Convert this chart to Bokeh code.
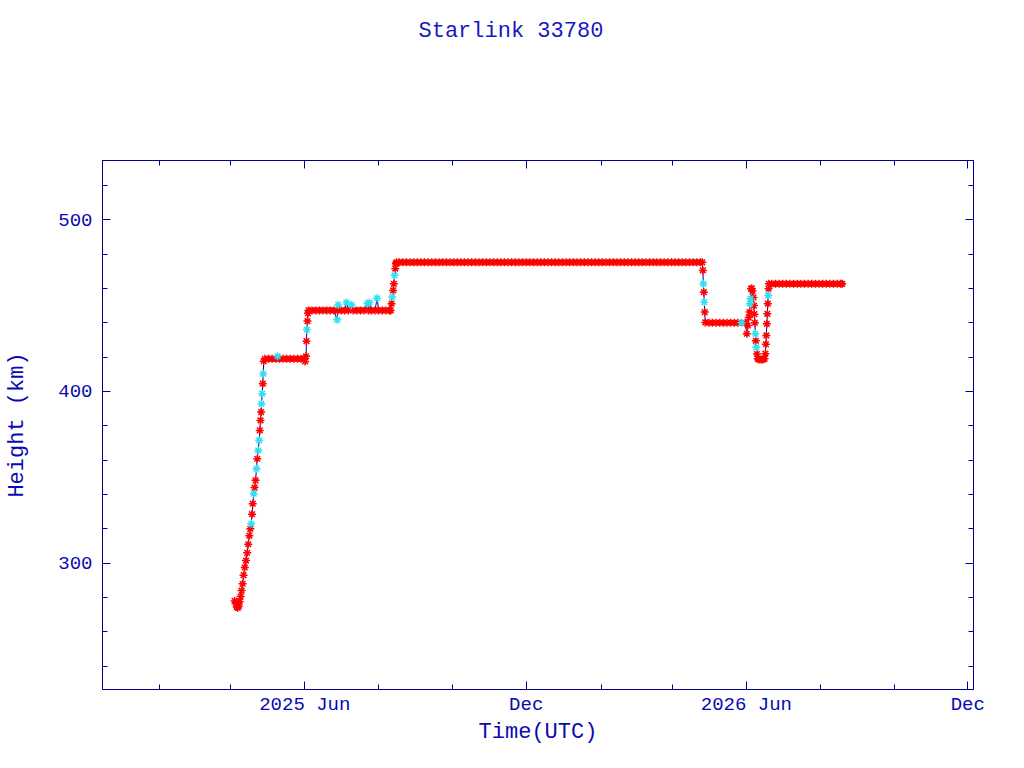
import pandas as pd
from bokeh.plotting import figure
from bokeh.models import ColumnDataSource, FixedTicker, LinearAxis, Range1d, Title
from bokeh.embed import file_html
from bokeh.resources import INLINE

title_text = "Starlink 33780"
x_label = "Time(UTC)"
y_label = "Height (km)"
base_date = "2025-06-01"   # day offsets below are counted from this date

# ---- data: day offset from base_date, height in km ----
days_rise = [-58.0, -57.0, -56.2, -55.4, -54.6, -53.8, -53.0, -52.2, -51.4, -50.6, -49.6, -48.6,
             -47.6, -46.7, -45.8, -45.0, -44.3, -43.6, -43.0, -42.2, -41.5, -40.7, -39.9, -39.3,
             -38.5, -37.7, -37.2, -36.6, -36.1, -35.8, -35.2, -34.7, -34.4, -33.9]
h_rise = [278.0, 276.5, 274.5, 274.0, 275.0, 277.5, 280.5, 284.0, 288.0, 293.0, 297.5, 301.5,
          306.0, 311.0, 316.0, 320.0, 322.9, 328.5, 334.6, 340.4, 344.0, 348.2, 355.0, 360.8,
          365.6, 371.5, 377.3, 383.1, 388.0, 392.8, 398.7, 404.5, 410.3, 417.6]

days_p419 = [-33.0, -30.0, -27.0, -24.0, -22.5, -21.0, -18.0, -15.0, -12.0, -9.0, -6.0, -3.0, -0.5, 0.3,
             1.0, 1.4, 1.7, 2.2, 2.6, 3.0]
h_p419 = [419.0, 419.0, 419.0, 419.0, 420.5, 419.0, 419.0, 419.0, 419.0, 419.0, 419.0, 419.0, 419.0, 417.5,
          420.5, 429.3, 436.0, 441.0, 445.5, 447.2]

days_p447 = [6.0, 9.0, 12.0, 15.0, 18.0, 21.0, 24.0, 26.8, 27.2, 27.6, 30.0, 33.0, 34.5, 36.0, 38.6,
             40.0, 43.0, 46.0, 49.0, 51.8, 52.6, 53.5, 55.0, 58.0, 59.8, 61.0, 64.0, 67.0, 70.0,
             71.0, 71.7, 72.3, 73.0, 73.6, 74.2, 74.8, 75.3, 75.8]
h_p447 = [447.2, 447.2, 447.2, 447.2, 447.2, 447.2, 447.2, 441.7, 447.2, 450.4, 447.2, 447.2, 451.8, 447.2, 450.4,
          447.2, 447.2, 447.2, 447.2, 451.2, 447.2, 451.8, 447.2, 447.2, 454.3, 447.2, 447.2, 447.2, 447.2,
          447.2, 451.1, 455.0, 458.8, 462.7, 467.6, 471.5, 474.4, 475.2]

days_p475 = [78, 81, 84, 87, 90, 93, 96, 99, 102, 105, 108, 111,
             114, 117, 120, 123, 126, 129, 132, 135, 138, 141, 144, 147,
             150, 153, 156, 159, 162, 165, 168, 171, 174, 177, 180, 183,
             186, 189, 192, 195, 198, 201, 204, 207, 210, 213, 216, 219,
             222, 225, 228, 231, 234, 237, 240, 243, 246, 249, 252, 255,
             258, 261, 264, 267, 270, 273, 276, 279, 282, 285, 288, 291,
             294, 297, 300, 303, 306, 309, 312, 315, 318, 321, 324, 327]
h_p475 = [475.2, 475.2, 475.2, 475.2, 475.2, 475.2, 475.2, 475.2, 475.2, 475.2, 475.2, 475.2,
          475.2, 475.2, 475.2, 475.2, 475.2, 475.2, 475.2, 475.2, 475.2, 475.2, 475.2, 475.2,
          475.2, 475.2, 475.2, 475.2, 475.2, 475.2, 475.2, 475.2, 475.2, 475.2, 475.2, 475.2,
          475.2, 475.2, 475.2, 475.2, 475.2, 475.2, 475.2, 475.2, 475.2, 475.2, 475.2, 475.2,
          475.2, 475.2, 475.2, 475.2, 475.2, 475.2, 475.2, 475.2, 475.2, 475.2, 475.2, 475.2,
          475.2, 475.2, 475.2, 475.2, 475.2, 475.2, 475.2, 475.2, 475.2, 475.2, 475.2, 475.2,
          475.2, 475.2, 475.2, 475.2, 475.2, 475.2, 475.2, 475.2, 475.2, 475.2, 475.2, 475.2]

days_p440 = [328.5, 329.0, 329.4, 329.8, 330.2, 330.6, 331.0,
             334.0, 337.0, 340.0, 343.0, 346.0, 349.0, 352.0, 355.0, 358.0, 361.0, 364.0]
h_p440 = [475.2, 470.5, 462.7, 457.8, 452.0, 446.2, 440.2,
          440.0, 440.0, 440.0, 440.0, 440.0, 440.0, 440.0, 440.0, 440.0, 440.0, 440.0]

days_zig = [365.3, 366.2, 367.0, 367.6, 368.0, 368.4, 368.9, 369.4, 370.0, 370.8, 371.2, 371.6,
            372.0, 372.4, 372.8, 373.2, 373.7, 374.3, 375.5, 377.0, 378.5, 380.0, 380.7, 381.1,
            381.5, 381.9, 382.3, 382.7, 383.0, 383.3, 383.6]
h_zig = [433.6, 438.4, 443.0, 446.2, 451.1, 454.0, 459.8, 460.0, 458.5, 454.7, 450.0, 445.0,
         440.0, 433.6, 429.5, 425.7, 421.8, 419.0, 418.6, 418.6, 418.6, 419.0, 422.0, 427.5,
         432.6, 439.4, 445.2, 451.1, 455.9, 459.8, 462.7]

days_p463 = [386, 389, 392, 395, 398, 401, 404, 407, 410, 413, 416,
             419, 422, 425, 428, 431, 434, 437, 440, 443, 444.2]
h_p463 = [462.7, 462.7, 462.7, 462.7, 462.7, 462.7, 462.7, 462.7, 462.7, 462.7, 462.7,
          462.7, 462.7, 462.7, 462.7, 462.7, 462.7, 462.7, 462.7, 462.7, 462.7]

# points drawn in cyan (all others red)
cyan_days = [-44.3, -42.2, -39.9, -38.5, -37.7, -35.8, -35.2, -34.4, -22.5, 1.7, 26.8, 27.6,
             34.5, 38.6, 51.8, 53.5, 59.8, 72.3, 74.2, 329.4, 330.2, 361.0, 368.0, 368.4,
             372.4, 373.2, 383.0]

# ---- axis ticks ----
x_major_dates = ["2025-06-01", "2025-12-01", "2026-06-01", "2026-12-01"]
x_major_labels = ["2025 Jun", "Dec", "2026 Jun", "Dec"]
x_minor_dates = ["2025-02-01", "2025-04-01", "2025-08-01", "2025-10-01",
                 "2026-02-01", "2026-04-01", "2026-08-01", "2026-10-01"]
y_major = [300, 400, 500]
y_minor = [240, 260, 280, 320, 340, 360, 380, 420, 440, 460, 480, 520]

days = days_rise + days_p419 + days_p447 + days_p475 + days_p440 + days_zig + days_p463
heights = h_rise + h_p419 + h_p447 + h_p475 + h_p440 + h_zig + h_p463
cyan_set = set(cyan_days)
is_cyan = [d in cyan_set for d in days]

base = pd.Timestamp(base_date)
def to_day(s):
    return int((pd.Timestamp(s) - base).days)

x_major = [to_day(s) for s in x_major_dates]
x_minor = [to_day(s) for s in x_minor_dates]

TXT = "#0a0ab4"
LINE = "#00008b"
FONT = "Liberation Mono"

p = figure(width=1010, height=750, output_backend="svg", toolbar_location=None,
           x_range=Range1d(-167.2, 552.7), y_range=Range1d(226.4, 534.5),
           x_axis_type=None, y_axis_type=None,
           min_border_left=102, min_border_right=37, min_border_top=160, min_border_bottom=61)
p.outline_line_color = LINE
p.outline_line_width = 1
p.background_fill_color = "white"
p.border_fill_color = "white"

def style(ax, labels):
    ax.axis_line_color = LINE
    ax.major_tick_line_color = LINE
    ax.minor_tick_line_color = LINE
    ax.major_tick_in = 8
    ax.major_tick_out = 0
    ax.minor_tick_in = 5
    ax.minor_tick_out = 0
    ax.major_label_text_font = FONT
    ax.major_label_text_color = TXT
    ax.axis_label_text_font = FONT
    ax.axis_label_text_color = TXT
    ax.axis_label_text_font_style = "normal"
    if labels:
        ax.major_label_text_font_size = "19px"
        ax.axis_label_text_font_size = "22px"
    else:
        ax.major_label_text_font_size = "0px"
        ax.major_label_text_alpha = 0

xb = LinearAxis(ticker=FixedTicker(ticks=x_major, minor_ticks=x_minor), axis_label=x_label)
xb.major_label_overrides = {t: l for t, l in zip(x_major, x_major_labels)}
style(xb, True)
xb.major_label_standoff = 4
xb.axis_label_standoff = 1
p.add_layout(xb, "below")

xt = LinearAxis(ticker=FixedTicker(ticks=x_major, minor_ticks=x_minor))
style(xt, False)
p.add_layout(xt, "above")

yl = LinearAxis(ticker=FixedTicker(ticks=y_major, minor_ticks=y_minor), axis_label=y_label)
style(yl, True)
yl.major_label_standoff = 10
yl.axis_label_standoff = 25
p.add_layout(yl, "left")

yr = LinearAxis(ticker=FixedTicker(ticks=y_major, minor_ticks=y_minor))
style(yr, False)
p.add_layout(yr, "right")

# white (invisible on white) spacer between the frame and the title, then the title itself
spacer = Title(text=".", text_color="white", text_font_size="10px", standoff=107)
p.add_layout(spacer, "above")
t = Title(text=title_text, align="left", text_font=FONT, text_font_size="22px",
          text_color="#1818c0", text_font_style="normal", offset=316, standoff=0)
p.add_layout(t, "above")

src_all = ColumnDataSource(dict(x=days, y=heights))
red = ColumnDataSource(dict(x=[d for d, c in zip(days, is_cyan) if not c],
                            y=[h for h, c in zip(heights, is_cyan) if not c]))
cyan = ColumnDataSource(dict(x=[d for d, c in zip(days, is_cyan) if c],
                             y=[h for h, c in zip(heights, is_cyan) if c]))

p.line("x", "y", source=src_all, line_color="#0000aa", line_width=1)
p.scatter("x", "y", source=red, marker="asterisk", size=8, line_color="#ff0000", line_width=1.5)
p.scatter("x", "y", source=cyan, marker="asterisk", size=8, line_color="#30e0f0", line_width=1.5)

open("out.html", "w").write(file_html(p, INLINE))
